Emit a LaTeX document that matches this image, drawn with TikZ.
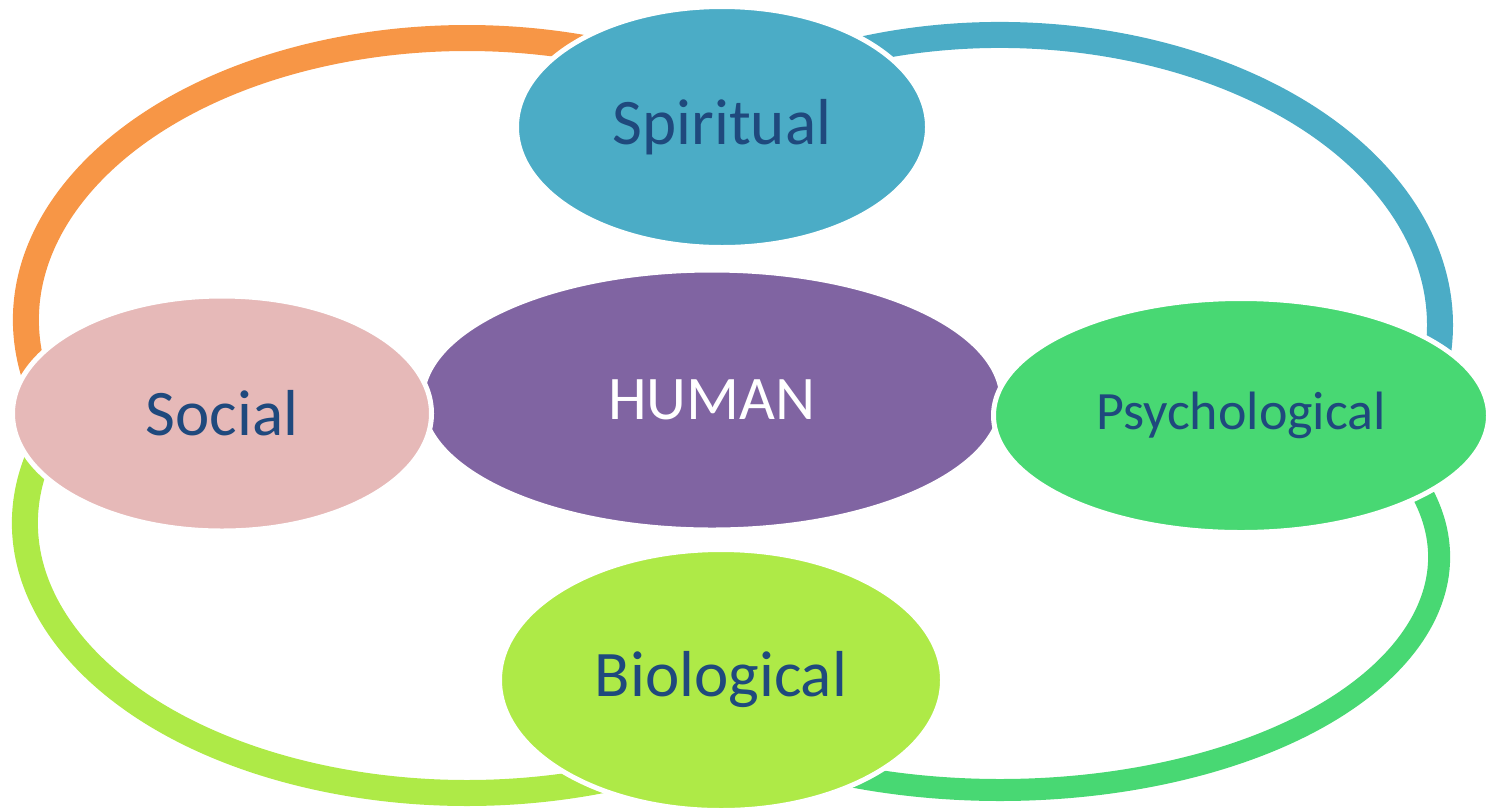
\documentclass[tikz,border=0pt]{standalone}
\usepackage{fontspec}
\setmainfont{Carlito}
\usetikzlibrary{shapes.geometric}
\definecolor{cOrange}{HTML}{F79646}
\definecolor{cBlue}{HTML}{4BACC6}
\definecolor{cLime}{HTML}{AEEA47}
\definecolor{cGreen}{HTML}{48D873}
\definecolor{cPink}{HTML}{E6B9B8}
\definecolor{cPurple}{HTML}{8064A2}
\definecolor{cText}{HTML}{1F497D}
\tikzset{
  bubble/.style={ellipse, draw=white, line width=2.5pt, inner sep=0pt, text=cText},
  loop/.style={line width=13pt, line cap=butt},
}
\begin{document}
\begin{tikzpicture}[x=0.5pt, y=-0.5pt]
\useasboundingbox (0,0) rectangle (1488,810);
% loops
\coordinate (oc) at (467,320);
\coordinate (bc) at (1000,325);
\coordinate (lc) at (467,523);
\coordinate (gc) at (1000,557);
\draw[loop, cOrange] (oc) ++(165:441 and 282) arc[start angle=165, end angle=295, x radius=441, y radius=282];
\draw[loop, cBlue] (bc) ++(245:440 and 290) arc[start angle=245, end angle=375, x radius=440, y radius=290];
\draw[loop, cLime] (lc) ++(197:442 and 270) arc[start angle=197, end angle=65, x radius=442, y radius=270];
\draw[loop, line width=11pt, cGreen] (gc) ++(-20:439 and 233) arc[start angle=-20, end angle=115, x radius=439, y radius=233];
% nodes
\node[bubble, fill=cPurple, text=white, minimum width=290pt, minimum height=130pt, font=\fontsize{31}{36}\selectfont] (human) at (712,400) {HUMAN};
\node[bubble, fill=cBlue, minimum width=205.5pt, minimum height=120.5pt, font=\fontsize{32.5}{38}\selectfont] (spirit) at (722,127) {Spiritual};
\node[bubble, fill=cPink, minimum width=209.5pt, minimum height=117.5pt, font=\fontsize{32.5}{38}\selectfont] (social) at (222,413.5) {Social};
\node[bubble, fill=cGreen, minimum width=247.5pt, minimum height=117pt, font=\fontsize{27}{32}\selectfont] (psych) at (1241,415.5) {Psychological};
\node[bubble, fill=cLime, minimum width=221.5pt, minimum height=130.5pt, font=\fontsize{32.5}{38}\selectfont] (bio) at (721,680) {Biological};
\end{tikzpicture}
\end{document}
